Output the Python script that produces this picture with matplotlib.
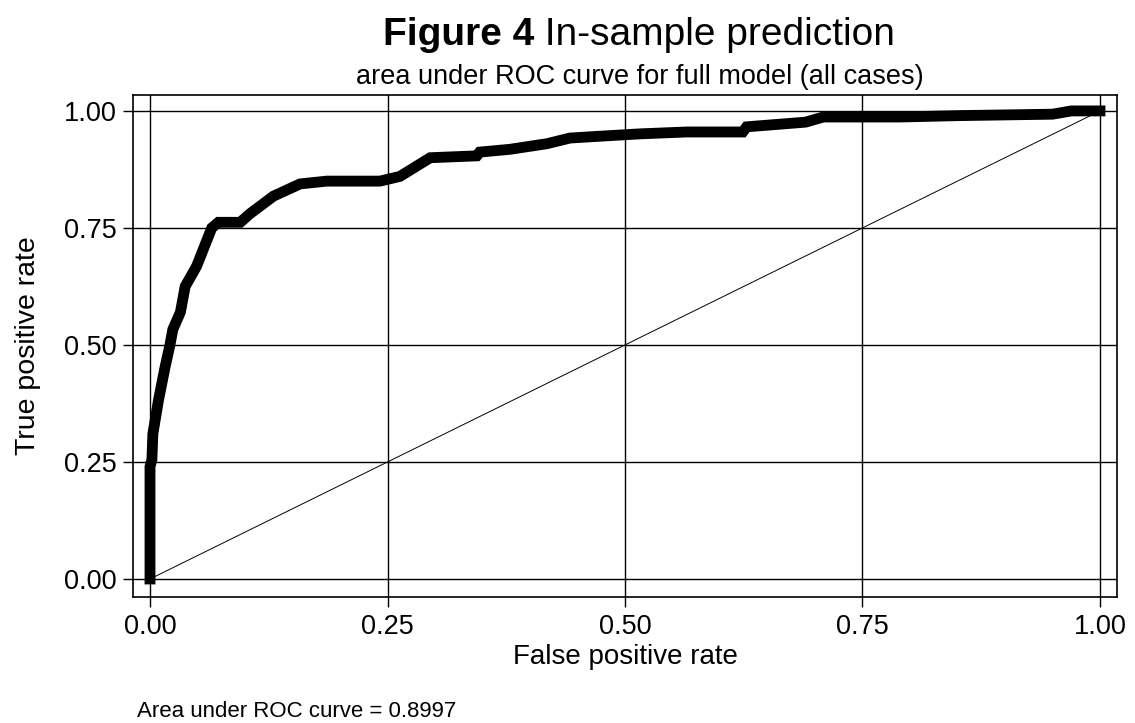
import matplotlib
matplotlib.use("Agg")
import matplotlib.pyplot as plt

plt.rcParams['font.family'] = ['Liberation Sans', 'DejaVu Sans']

fpr = [0.0, 0.0, 0.002, 0.003, 0.009, 0.016, 0.021, 0.024, 0.032, 0.037, 0.049, 0.065,
       0.072, 0.095, 0.105, 0.130, 0.158, 0.186, 0.242, 0.263, 0.295, 0.344, 0.347,
       0.379, 0.418, 0.442, 0.474, 0.516, 0.565, 0.624, 0.628, 0.690, 0.709, 0.789,
       0.853, 0.950, 0.970, 1.0]
tpr = [0.0, 0.24, 0.255, 0.31, 0.383, 0.454, 0.50, 0.533, 0.57, 0.625, 0.668, 0.75,
       0.762, 0.762, 0.78, 0.818, 0.844, 0.85, 0.85, 0.86, 0.90, 0.904, 0.912,
       0.918, 0.93, 0.942, 0.946, 0.951, 0.955, 0.955, 0.966, 0.976, 0.987, 0.987,
       0.99, 0.993, 1.0, 1.0]
ticks = [0.0, 0.25, 0.5, 0.75, 1.0]
tick_labels = ["0.00", "0.25", "0.50", "0.75", "1.00"]
auc_text = "Area under ROC curve = 0.8997"

W, H = 1135, 723
fig = plt.figure(figsize=(W / 100, H / 100), dpi=100)
ax = fig.add_axes([133 / W, 1 - 597 / H, (1117 - 133) / W, (597 - 95) / H])

ax.set_xlim(-0.0179, 1.0179)
ax.set_ylim(-0.0385, 1.034)
ax.set_xticks(ticks)
ax.set_yticks(ticks)
ax.set_xticklabels(tick_labels)
ax.set_yticklabels(tick_labels)
ax.grid(True, color='black', linewidth=1.0)
ax.set_axisbelow(True)
ax.tick_params(direction='out', length=7, width=1, colors='black', labelsize=19.5, pad=5)
for s in ax.spines.values():
    s.set_color('black')
    s.set_linewidth(1.2)

ax.plot([0, 1], [0, 1], color='black', linewidth=0.7)
ax.plot(fpr, tpr, color='black', linewidth=7.8, solid_capstyle='projecting',
        solid_joinstyle='miter')

ax.set_xlabel("False positive rate", fontsize=20, labelpad=3)
ax.set_ylabel("True positive rate", fontsize=20.5, labelpad=16)

t1 = fig.text(383 / W, 1 - 45 / H, "Figure 4", fontsize=28, fontweight='bold',
              ha='left', va='baseline')
ax.annotate(" In-sample prediction", xy=(1, 0), xycoords=t1, fontsize=28,
            ha='left', va='bottom')
fig.text(640 / W, 1 - 84 / H, "area under ROC curve for full model (all cases)",
         fontsize=19.5, ha='center', va='baseline')
fig.text(137 / W, 1 - 717 / H, auc_text, fontsize=16, ha='left', va='baseline')

fig.savefig("out.png", dpi=100)
